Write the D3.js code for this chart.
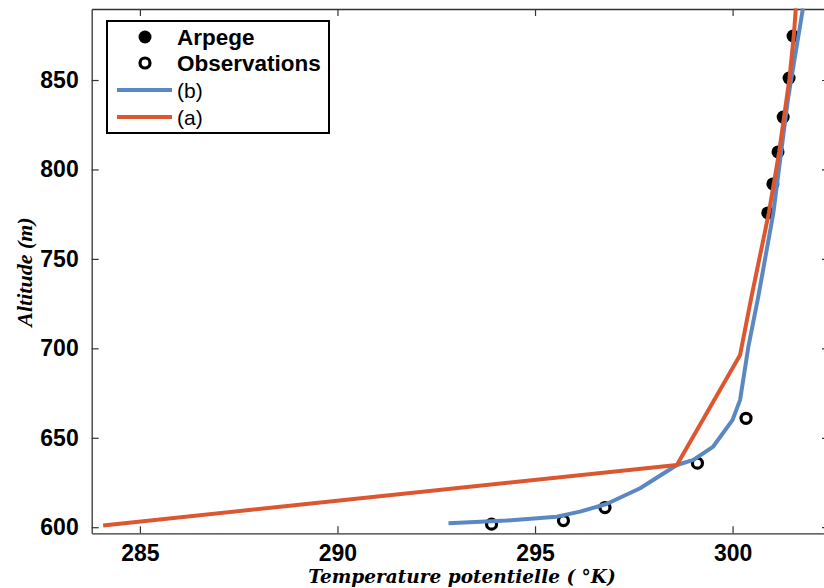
<!DOCTYPE html>
<html><head><meta charset="utf-8">
<script src="https://cdn.jsdelivr.net/npm/d3@7"></script>
<style>
html,body{margin:0;padding:0;background:#fff;}
svg{display:block;}
</style></head>
<body>
<svg id="chart" width="824" height="588"></svg>
<script>
// ---- data ----
const xTicks = [285, 290, 295, 300];
const yTicks = [600, 650, 700, 750, 800, 850];
const arpegeT = [301.53, 301.43, 301.28, 301.15, 301.02, 300.89];
const arpegeZ = [874.6, 851.1, 829.3, 809.8, 791.9, 775.7];
const obsT = [293.90, 295.72, 296.77, 299.11, 300.34];
const obsZ = [601.7, 603.7, 611.0, 635.8, 660.9];
const bT = [292.81, 294.28, 295.55, 296.14, 296.81, 297.66, 298.59, 299.01, 299.51, 300.00, 300.19, 300.40, 300.65, 301.03, 301.40, 301.78];
const bZ = [602.2, 603.7, 605.9, 608.7, 613.0, 621.8, 634.8, 637.6, 645.1, 660.0, 671.2, 701.0, 728.9, 775.5, 839.1, 890.0];
const aT = [284.07, 298.59, 300.19, 300.48, 300.92, 301.18, 301.44, 301.55, 301.60];
const aZ = [601.0, 634.8, 696.3, 729.0, 776.0, 810.0, 851.0, 875.0, 890.0];
const legendLabels = ["Arpege", "Observations", "(b)", "(a)"];
const xLabel = "Temperature potentielle (  \u00B0K)";
const yLabel = "Altitude (m)";

// ---- layout ----
const L = 91.7, R = 829, T = 9, B = 533.3;
const red = "#dc5630", blue = "#5b88c2";
const svg = d3.select("#chart");
const x = d3.scaleLinear().domain([283.78, 302.44]).range([L, R]);
const y = d3.scaleLinear().domain([596.6, 889.7]).range([B, T]);

const tickFont = "'Liberation Sans', Arial, sans-serif";
const tl = 7;

// axes
const axB = svg.append("g").attr("transform", `translate(0,${B})`)
  .call(d3.axisBottom(x).tickValues(xTicks).tickSizeInner(-tl).tickSizeOuter(0).tickPadding(11));
const axT = svg.append("g").attr("transform", `translate(0,${T})`)
  .call(d3.axisTop(x).tickValues(xTicks).tickSizeInner(-tl).tickSizeOuter(0).tickFormat(""));
const axL = svg.append("g").attr("transform", `translate(${L},0)`)
  .call(d3.axisLeft(y).tickValues(yTicks).tickSizeInner(-tl).tickSizeOuter(0).tickPadding(13));
const axR = svg.append("g").attr("transform", `translate(${R},0)`)
  .call(d3.axisRight(y).tickValues(yTicks).tickSizeInner(-tl).tickSizeOuter(0).tickFormat(""));
[axB, axT, axL, axR].forEach(g => {
  g.select(".domain").attr("stroke", "#333").attr("stroke-width", 1.3);
  g.selectAll(".tick line").attr("stroke", "#333").attr("stroke-width", 1.2);
  g.selectAll(".tick text").attr("font-family", tickFont).attr("font-weight", "bold")
    .attr("font-size", 23).attr("fill", "#000");
});
axB.selectAll(".tick text").attr("dy", "0.71em");

// marks (plot order: Arpege, Observations, b, a)
const pts = (ts, zs) => ts.map((t, i) => [t, zs[i]]);
svg.append("g").selectAll("circle").data(pts(arpegeT, arpegeZ)).join("circle")
  .attr("cx", d => x(d[0])).attr("cy", d => y(d[1])).attr("r", 6.5).attr("fill", "#000");
svg.append("g").selectAll("circle").data(pts(obsT, obsZ)).join("circle")
  .attr("cx", d => x(d[0])).attr("cy", d => y(d[1])).attr("r", 5)
  .attr("fill", "none").attr("stroke", "#000").attr("stroke-width", 3.2);
const line = d3.line().x(d => x(d[0])).y(d => y(d[1]));
svg.append("path").datum(pts(bT, bZ)).attr("d", line)
  .attr("fill", "none").attr("stroke", blue).attr("stroke-width", 4).attr("stroke-linejoin", "round");
svg.append("path").datum(pts(aT, aZ)).attr("d", line)
  .attr("fill", "none").attr("stroke", red).attr("stroke-width", 4).attr("stroke-linejoin", "round");

// legend
const lg = svg.append("g");
lg.append("rect").attr("x", 107).attr("y", 21).attr("width", 222).attr("height", 112)
  .attr("fill", "#fff").attr("stroke", "#000").attr("stroke-width", 2);
const rows = [37, 63, 90, 117];
lg.append("circle").attr("cx", 145).attr("cy", rows[0]).attr("r", 6.5).attr("fill", "#000");
lg.append("circle").attr("cx", 145).attr("cy", rows[1]).attr("r", 5).attr("fill", "none")
  .attr("stroke", "#000").attr("stroke-width", 3.2);
lg.append("line").attr("x1", 117).attr("x2", 172).attr("y1", rows[2]).attr("y2", rows[2])
  .attr("stroke", blue).attr("stroke-width", 4);
lg.append("line").attr("x1", 117).attr("x2", 172).attr("y1", rows[3]).attr("y2", rows[3])
  .attr("stroke", red).attr("stroke-width", 4);
legendLabels.forEach((s, i) => {
  lg.append("text").attr("x", 177).attr("y", rows[i]).attr("dy", "0.36em")
    .attr("font-family", tickFont).attr("font-size", i < 2 ? 22.5 : 21)
    .attr("font-weight", i < 2 ? "bold" : "normal").attr("fill", "#000").text(s);
});

// axis labels
svg.append("text").attr("x", 462).attr("y", 583).attr("text-anchor", "middle")
  .attr("font-family", "'DejaVu Serif', 'Liberation Serif', serif").attr("font-style", "italic")
  .attr("font-weight", "bold").attr("font-size", 18.5).attr("fill", "#000").text(xLabel);
svg.append("text").attr("transform", "translate(32,272) rotate(-90)").attr("text-anchor", "middle")
  .attr("font-family", "'Liberation Serif', 'Times New Roman', serif").attr("font-style", "italic")
  .attr("font-weight", "bold").attr("font-size", 22).attr("fill", "#000").text(yLabel);
</script>
</body></html>
